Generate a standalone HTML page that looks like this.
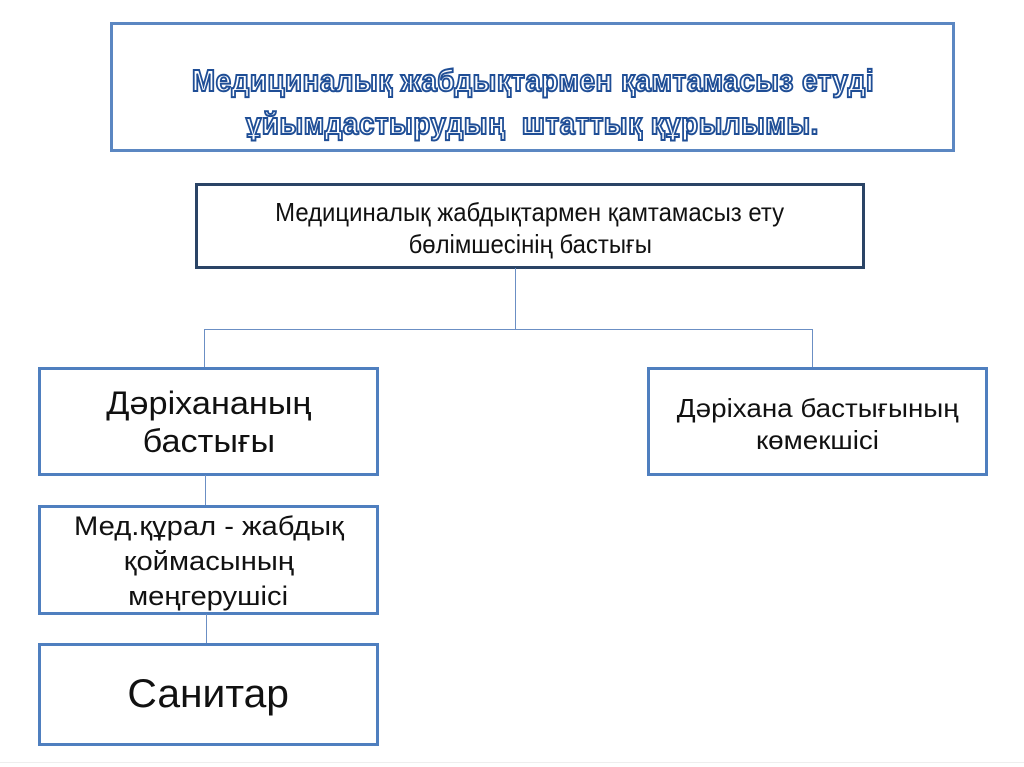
<!DOCTYPE html>
<html><head><meta charset="utf-8"><style>
body{margin:0;width:1024px;height:767px;background:#fff;position:relative;overflow:hidden;font-family:"Liberation Sans",sans-serif;}
.b{position:absolute;box-sizing:border-box;border:3px solid #4f7fbf;background:#fff;display:flex;align-items:center;justify-content:center;text-align:center;color:#111;}
.l{position:absolute;background:#6b8fc4;}
.c{display:inline-block;white-space:nowrap;}
.t{font-weight:bold;font-size:31px;line-height:43px;color:#fff;-webkit-text-stroke:2px #1f4e96;letter-spacing:0.5px;}
</style></head><body>
<div style="position:absolute;left:0;top:762px;width:1024px;height:1px;background:#eee"></div>
<div class="b" style="left:110px;top:22px;width:845px;height:130px;border-color:#5b87c2;">
 <div class="t" style="margin-top:30px"><span class="c" style="transform:scaleX(0.9)">Медициналық жабдықтармен қамтамасыз етуді</span><br><span class="c" style="transform:scaleX(0.9)">ұйымдастырудың&nbsp; штаттық құрылымы.</span></div>
</div>
<div class="b" style="left:195px;top:183px;width:670px;height:86px;border-color:#2a4466;font-size:26px;line-height:32px;">
 <div style="margin-top:4px"><span class="c" style="transform:scaleX(0.92)">Медициналық жабдықтармен қамтамасыз ету</span><br><span class="c" style="transform:scaleX(0.92)">бөлімшесінің бастығы</span></div>
</div>
<div class="l" style="left:515px;top:268px;width:1px;height:62px"></div>
<div class="l" style="left:204px;top:329px;width:609px;height:1px"></div>
<div class="l" style="left:204px;top:329px;width:1px;height:40px"></div>
<div class="l" style="left:812px;top:329px;width:1px;height:40px"></div>
<div class="b" style="left:38px;top:367px;width:341px;height:109px;font-size:32px;line-height:38px;">
 <div><span class="c" style="transform:scaleX(1.07)">Дәріхананың</span><br><span class="c" style="transform:scaleX(1.07)">бастығы</span></div>
</div>
<div class="b" style="left:647px;top:367px;width:341px;height:109px;font-size:26px;line-height:32px;">
 <div style="margin-top:4px"><span class="c" style="transform:scaleX(1.07)">Дәріхана бастығының</span><br><span class="c" style="transform:scaleX(1.07)">көмекшісі</span></div>
</div>
<div class="l" style="left:205px;top:475px;width:1px;height:31px"></div>
<div class="b" style="left:38px;top:505px;width:341px;height:110px;font-size:27px;line-height:35px;">
 <div style="margin-top:2px"><span class="c" style="transform:scaleX(1.08)">Мед.құрал - жабдық</span><br><span class="c" style="transform:scaleX(1.08)">қоймасының</span><br><span class="c" style="transform:scaleX(1.08)">меңгерушісі</span></div>
</div>
<div class="l" style="left:206px;top:614px;width:1px;height:30px"></div>
<div class="b" style="left:38px;top:643px;width:341px;height:103px;font-size:40px;">
 <div><span class="c" style="transform:scaleX(1.02)">Санитар</span></div>
</div>
</body></html>
